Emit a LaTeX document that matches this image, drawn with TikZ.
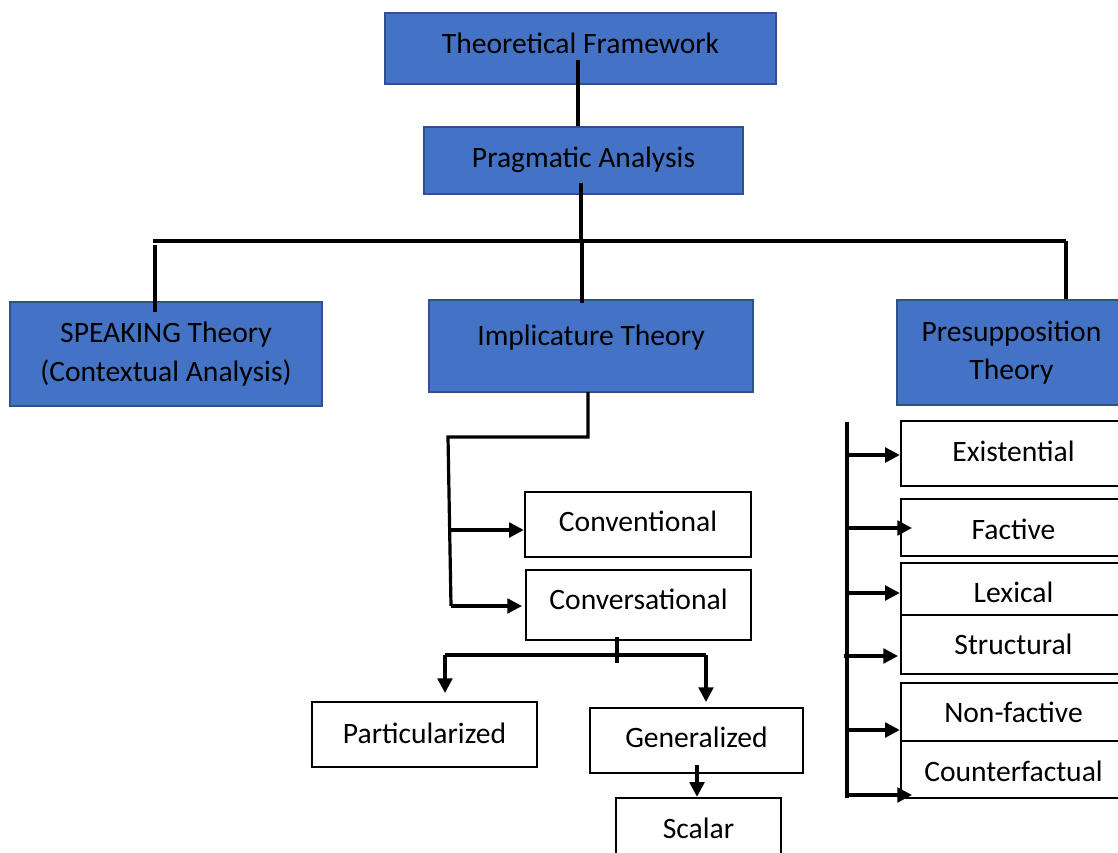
\documentclass[tikz,border=0pt]{standalone}
\usepackage{fontspec}
\setmainfont{Carlito}
\usetikzlibrary{arrows.meta}
\definecolor{boxblue}{HTML}{4472C4}
\definecolor{boxedge}{HTML}{2F528F}
% multi-line box, natural text size
\newcommand\bx[7]{\node[#2, minimum width={(#5-#3)*0.75pt}, minimum height={(#6-#4)*0.75pt}, inner sep=0pt] (#1) at ({(#3+#5)/2},{(#4+#6)/2}) {#7};}
% single-line box, text raised by #1 px above the box centre
\newcommand\bxs[8][0]{\pgfmathsetmacro\bxdp{7.45+1.5*(#1)}%
  \node[#3, minimum width={(#6-#4)*0.75pt}, minimum height={(#7-#5)*0.75pt}, inner sep=0pt, text height=22pt, text depth=\bxdp pt] (#2) at ({(#4+#6)/2},{(#5+#7)/2}) {#8};}
\tikzset{
  bluebox/.style={draw=boxedge, line width=1.5pt, fill=boxblue, align=center, text=black},
  whitebox/.style={draw=black, line width=1.8pt, fill=white, align=center},
  conn/.style={draw=black, line width=2.4pt},
  arr/.style={conn, -{Triangle[length=11pt,width=11pt]}},
}
\begin{document}
\begin{tikzpicture}[x=0.75pt,y=-0.75pt,font=\fontsize{22.2}{29}\selectfont]
\useasboundingbox (0,0) rectangle (1118,853);
% top blue boxes
\bxs[5]{tf}{bluebox}{385}{13}{776}{84}{Theoretical Framework}
\bxs[3]{pa}{bluebox}{424}{127}{743}{194}{Pragmatic Analysis}
\bx{sp}{bluebox}{10}{302}{322}{406}{SPEAKING Theory\\(Contextual Analysis)}
\bxs[10]{it}{bluebox}{429}{300}{753}{392}{Implicature Theory}
\bx{pt}{bluebox}{897}{300}{1126}{405}{Presupposition\\Theory}
% implicature children
\bxs[2.5]{conv}{whitebox}{525}{492}{751}{557}{Conventional}
\bxs[5]{cons}{whitebox}{526}{570}{751}{640}{Conversational}
\bxs[1]{part}{whitebox}{312}{702}{537}{767}{Particularized}
\bxs[3]{gen}{whitebox}{590}{708}{803}{773}{Generalized}
\bxs[0]{sca}{whitebox}{616}{798}{781}{860}{Scalar}
% presupposition children
\bxs[1.5]{exi}{whitebox}{901}{421}{1126}{486}{Existential}
\bxs[-2]{fac}{whitebox}{901}{499}{1126}{556}{Factive}
\bxs[-4]{lex}{whitebox}{901}{563}{1126}{615}{Lexical}
\bxs[-0.5]{str}{whitebox}{901}{615}{1126}{674}{Structural}
\bxs[-1]{nfa}{whitebox}{901}{683}{1126}{741}{Non-factive}
\bxs[-2.5]{cfa}{whitebox}{901}{741}{1126}{798}{Counterfactual}
% top connectors
\coordinate (tfin) at (578,60);
\coordinate (pain) at (581,183);
\coordinate (busL) at (153,241);
\coordinate (busR) at (1066,241);
\coordinate (busM) at (582,240);
\coordinate (spT) at (155,245);
\draw[conn] (tfin) -- (tfin |- pa.north);
\draw[conn] (pain) -- (pain |- busL);
\draw[conn] (busL) -- (busR);
\draw[conn] (busR) -- (busR |- pt.north);
\draw[conn] (busM) -- (582,303);
\draw[conn] (spT) -- (155,312);
% implicature connectors
\coordinate (itb) at (588,392);
\coordinate (itc) at (588,437);
\coordinate (itl) at (448,437);
\coordinate (itd) at (451,606);
\draw[conn] (itb) -- (itc) -- (itl) -- (itd);
\draw[arr] (448,530) -- (conv.west |- 0,530);
\draw[arr] (itd) -- (522,606);
% conversational split
\coordinate (csa) at (617,637);
\coordinate (csb) at (617,663);
\coordinate (csl) at (445,655);
\coordinate (csr) at (706,655);
\draw[conn] (csa) -- (csb);
\draw[conn] (csl) -- (csr);
\draw[arr] (csl) -- (445,693);
\draw[arr] (csr) -- (706,702);
\draw[arr] (697,765) -- (sca.north -| 697,0);
% presupposition connectors
\coordinate (pvt) at (847,422);
\coordinate (pvb) at (847,798);
\draw[conn] (pvt) -- (pvb);
\draw[arr] (847,455) -- (exi.west |- 0,455);
\draw[arr] (847,528) -- (912,528);
\draw[arr] (847,593) -- (lex.west |- 0,593);
\draw[arr] (844,656) -- (898,656);
\draw[arr] (847,730) -- (nfa.west |- 0,730);
\draw[arr] (847,795) -- (912,795);
\end{tikzpicture}
\end{document}
